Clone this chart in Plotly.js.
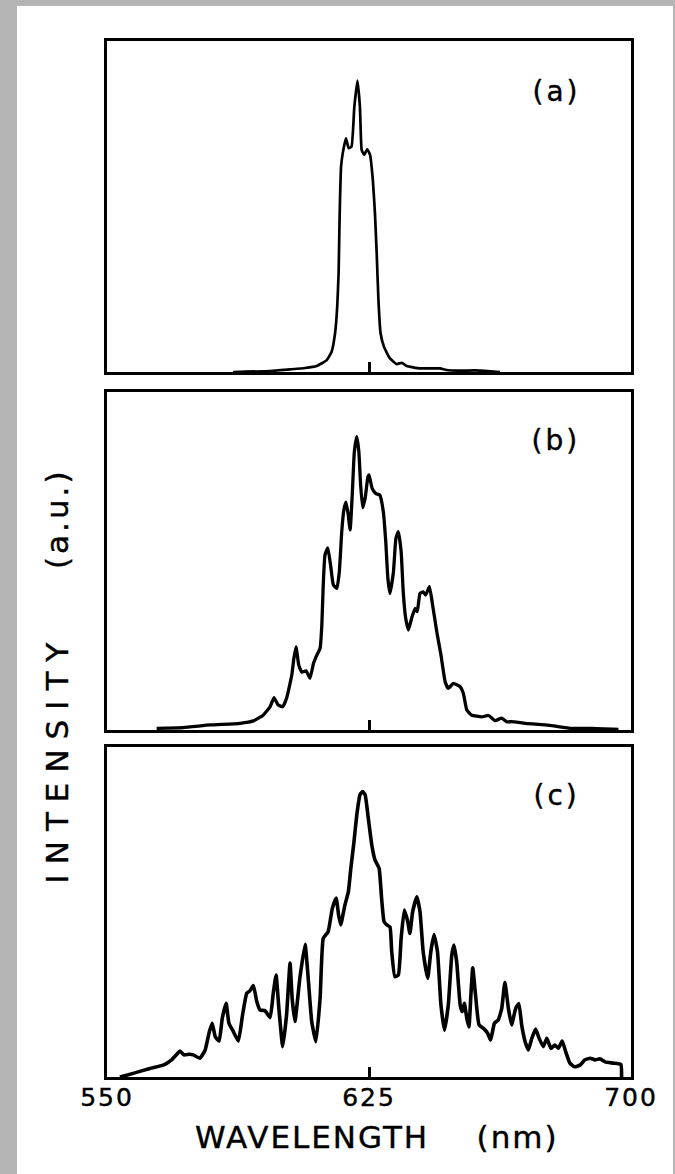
<!DOCTYPE html>
<html>
<head>
<meta charset="utf-8">
<script src="https://cdn.plot.ly/plotly-3.0.1.min.js"></script>
<style>
  html, body { margin: 0; padding: 0; background: #b4b4b4; }
  #sheet { position: absolute; left: 17px; top: 6px; width: 656px; height: 1168px; background: #ffffff; }
  #chart { position: absolute; left: 0; top: 0; width: 675px; height: 1174px; }
  #chart .xtick text { letter-spacing: 2px; stroke: #000; stroke-width: 0.4px; }
  #chart .annotation text { stroke: #000; stroke-width: 0.4px; }
  #chart .annotation[data-index="0"] text,
  #chart .annotation[data-index="1"] text,
  #chart .annotation[data-index="2"] text { letter-spacing: 3px; }
  #chart .annotation[data-index="3"] text { letter-spacing: 2px; }
  #chart .annotation[data-index="4"] text { letter-spacing: 10px; }
  #chart .annotation[data-index="5"] text { letter-spacing: 3px; }
</style>
</head>
<body>
<div id="sheet"></div>
<div id="chart"></div>
<script>
// Emission spectra, intensity in arbitrary units (0 = baseline, 100 = top of frame)

// (a) narrow spectrum
const wavelengthA = [586.1, 596.7, 602.4, 606.7, 610.0, 612.9, 614.3, 615.3, 615.9, 616.3,
  616.5, 616.7, 617.0, 617.5, 618.4, 619.2, 620.0, 620.8, 621.7, 622.4,
  622.9, 623.6, 624.5, 625.3, 626.1, 626.7, 627.2, 627.7, 628.3, 629.3,
  631.0, 632.9, 634.4, 635.8, 639.6, 645.3, 647.2, 651.1, 655.3, 660.5, 662.5];
const intensityA = [0, 0.3, 0.8, 1.2, 1.8, 3.6, 6.1, 11.8, 19.7, 29.9,
  42.0, 52.0, 62.0, 66.2, 70.6, 67.6, 68.1, 80.1, 88.0, 80.1,
  67.1, 65.6, 67.3, 65.6, 58.0, 48.0, 35.9, 21.8, 11.8, 7.6,
  4.1, 2.4, 2.8, 1.8, 1.1, 1.1, 0.6, 0.4, 0.5, 0.15, 0];

// (b) broadened spectrum
const wavelengthB = [564.2, 571.8, 579.5, 588.1, 591.9, 594.7, 596.7, 597.8, 599.0, 600.3,
  601.4, 602.9, 603.5, 604.1, 604.9, 605.8, 607.0, 608.1, 609.1, 610.0,
  611.0, 611.5, 611.9, 612.4, 613.2, 614.0, 614.8, 615.8, 616.5, 617.2,
  617.8, 618.4, 619.0, 619.6, 620.2, 620.8, 621.5, 622.1, 622.6, 623.2,
  623.9, 624.7, 625.0, 625.9, 626.9, 628.1, 629.1, 629.8, 630.4, 631.0,
  632.0, 632.7, 633.4, 634.2, 634.8, 635.5, 636.3, 637.2, 638.2, 638.8,
  639.6, 640.5, 641.2, 642.3, 643.2, 644.4, 645.6, 646.8, 647.7, 649.1,
  651.1, 652.0, 653.0, 654.4, 657.3, 659.2, 661.1, 663.0, 664.5, 665.8,
  669.7, 673.5, 677.3, 683.0, 688.7, 696.4];
const intensityB = [0.5, 0.7, 1.5, 2.0, 2.7, 4.4, 6.9, 9.6, 7.4, 6.9,
  9.4, 16.3, 21.2, 24.6, 19.2, 17.1, 17.5, 15.3, 19.7, 22.0,
  24.2, 31.1, 42.9, 51.8, 53.9, 48.8, 42.9, 41.9, 46.8, 58.7,
  65.1, 67.4, 64.1, 59.2, 69.5, 82.3, 86.8, 82.3, 72.5, 65.8,
  68.6, 75.0, 75.5, 71.5, 70.0, 69.5, 64.6, 55.7, 44.9, 40.4,
  46.8, 56.7, 58.7, 52.8, 40.9, 33.1, 29.6, 33.1, 36.0, 35.0,
  40.4, 40.9, 39.9, 42.4, 37.0, 29.1, 22.2, 14.3, 12.3, 13.8,
  12.8, 10.9, 5.9, 4.4, 3.9, 4.3, 2.8, 3.5, 2.4, 2.5,
  2.0, 1.7, 1.3, 0.5, 0.5, 0.2];

// (c) widest spectrum
const wavelengthC = [553.7, 557.5, 562.3, 566.1, 568.5, 570.0, 570.9, 572.0, 573.6, 574.7,
  576.6, 578.1, 579.3, 580.1, 581.0, 582.1, 583.0, 584.1, 584.9, 586.2,
  587.6, 588.8, 590.0, 590.9, 591.9, 592.9, 593.8, 595.2, 596.7, 597.6,
  598.4, 599.2, 600.3, 601.4, 602.4, 603.0, 603.8, 605.2, 606.7, 607.6,
  608.6, 609.8, 611.0, 611.9, 613.3, 614.5, 615.6, 616.3, 616.9, 618.1,
  619.1, 619.8, 620.7, 621.5, 622.4, 623.2, 623.9, 624.8, 625.8, 626.7,
  627.9, 628.6, 629.3, 630.1, 631.0, 631.5, 632.4, 633.4, 634.2, 635.1,
  636.1, 636.7, 637.5, 638.7, 639.6, 640.5, 641.8, 642.7, 643.6, 644.6,
  645.6, 646.6, 647.7, 648.7, 649.3, 650.1, 651.1, 651.7, 652.3, 653.0,
  653.6, 654.2, 654.7, 655.5, 656.5, 657.7, 659.0, 659.8, 660.9, 662.0,
  663.0, 663.9, 664.9, 665.8, 667.0, 667.9, 668.7, 669.7, 670.6, 671.6,
  672.7, 673.7, 674.9, 675.9, 677.1, 678.2, 679.2, 680.3, 681.3, 682.5,
  683.8, 685.4, 686.8, 688.3, 689.7, 691.1, 692.6, 694.9, 697.1, 697.3];
const intensityC = [0, 1.1, 2.6, 3.6, 5.2, 6.9, 7.9, 6.7, 6.9, 6.7,
  5.7, 8.2, 13.7, 16.3, 12.2, 10.9, 17.8, 22.3, 16.3, 13.7,
  10.9, 18.8, 25.4, 26.1, 27.7, 22.8, 20.3, 20.1, 18.0, 25.4,
  30.9, 20.8, 9.2, 18.8, 34.5, 23.8, 16.8, 29.9, 40.2, 29.9,
  16.8, 10.7, 23.8, 42.0, 44.0, 51.1, 54.2, 49.1, 46.1, 52.1,
  56.2, 63.2, 71.3, 79.4, 85.5, 86.5, 85.5, 78.4, 70.3, 65.8,
  63.2, 54.2, 47.1, 46.1, 45.5, 38.0, 30.4, 30.9, 42.0, 50.6,
  47.1, 43.5, 50.1, 54.6, 50.1, 38.0, 29.9, 38.0, 43.2, 38.0,
  21.8, 14.2, 21.8, 37.0, 40.0, 34.9, 21.8, 19.8, 22.3, 17.8,
  15.2, 25.4, 33.1, 24.8, 15.8, 14.8, 13.2, 11.2, 16.3, 17.3,
  20.8, 28.7, 20.8, 15.8, 20.8, 22.3, 15.8, 10.7, 8.2, 11.7,
  14.5, 11.7, 9.2, 11.7, 8.7, 9.7, 8.7, 10.9, 7.7, 4.2,
  3.1, 3.6, 5.2, 5.7, 5.2, 5.5, 4.6, 4.2, 3.8, 0];

const xTickValues = [550, 625, 700];
const xTickLabels = ['550', '625', '700'];
const panelLabels = ['(a)', '(b)', '(c)'];
const xTitle = 'WAVELENGTH\u00a0\u00a0\u00a0\u00a0(nm)';
const yTitleMain = 'INTENSITY';
const yTitleUnit = '(a.u.)';

const ink = '#000000';
const fontFamily = 'DejaVu Sans, sans-serif';

function curve(x, y, xa, ya, width) {
  return {
    x: x, y: y, xaxis: xa, yaxis: ya, type: 'scatter', mode: 'lines',
    line: { color: ink, width: width, shape: 'spline', smoothing: 0.4 },
    hoverinfo: 'skip', showlegend: false
  };
}

const data = [
  curve(wavelengthC, intensityC, 'x', 'y', 3.6),
  curve(wavelengthB, intensityB, 'x2', 'y2', 3.3),
  curve(wavelengthA, intensityA, 'x3', 'y3', 2.7)
];

function xAxis(anchor, labelled) {
  return {
    anchor: anchor, domain: [0, 1], range: [550, 700], fixedrange: true,
    showline: true, mirror: true, linecolor: ink, linewidth: 3,
    showgrid: false, zeroline: false,
    tickmode: 'array',
    tickvals: labelled ? xTickValues : [xTickValues[1]],
    ticktext: labelled ? xTickLabels : [xTickLabels[1]],
    ticks: 'inside', ticklen: 10, tickwidth: 3, tickcolor: ink,
    showticklabels: labelled,
    ticklabelstandoff: -4,
    tickfont: { family: fontFamily, size: 25, color: ink }
  };
}

function yAxis(anchor, domain) {
  return {
    anchor: anchor, domain: domain, range: [0, 100], fixedrange: true,
    showline: true, mirror: true, linecolor: ink, linewidth: 3,
    showgrid: false, zeroline: false, ticks: '', showticklabels: false
  };
}

const panelY = [0.9508, 0.6139, 0.2722];

const annotations = panelLabels.map((t, i) => ({
  text: t, xref: 'paper', yref: 'paper', x: 0.857, y: panelY[i],
  xanchor: 'center', yanchor: 'middle', showarrow: false,
  font: { family: fontFamily, size: 28, color: ink }
}));
annotations.push({
  text: xTitle, xref: 'paper', yref: 'paper', x: 0.516, y: -0.0579,
  xanchor: 'center', yanchor: 'middle', showarrow: false,
  font: { family: fontFamily, size: 31, color: ink }
});
annotations.push({
  text: yTitleMain, xref: 'paper', yref: 'paper', x: -0.0954, y: 0.3075,
  xanchor: 'center', yanchor: 'middle', showarrow: false, textangle: -90,
  font: { family: fontFamily, size: 31, color: ink }
});
annotations.push({
  text: yTitleUnit, xref: 'paper', yref: 'paper', x: -0.0954, y: 0.5386,
  xanchor: 'center', yanchor: 'middle', showarrow: false, textangle: -90,
  font: { family: fontFamily, size: 31, color: ink }
});

const layout = {
  width: 675, height: 1174,
  margin: { l: 107, r: 44, t: 41, b: 97, pad: 0 },
  paper_bgcolor: 'rgba(0,0,0,0)', plot_bgcolor: 'rgba(0,0,0,0)',
  showlegend: false,
  xaxis: xAxis('y', true),
  yaxis: yAxis('x', [0, 0.3185]),
  xaxis2: xAxis('y2', false),
  yaxis2: yAxis('x2', [0.3349, 0.6612]),
  xaxis3: xAxis('y3', false),
  yaxis3: yAxis('x3', [0.6805, 1]),
  annotations: annotations
};

Plotly.newPlot('chart', data, layout, { staticPlot: true, displayModeBar: false });
</script>
</body>
</html>
